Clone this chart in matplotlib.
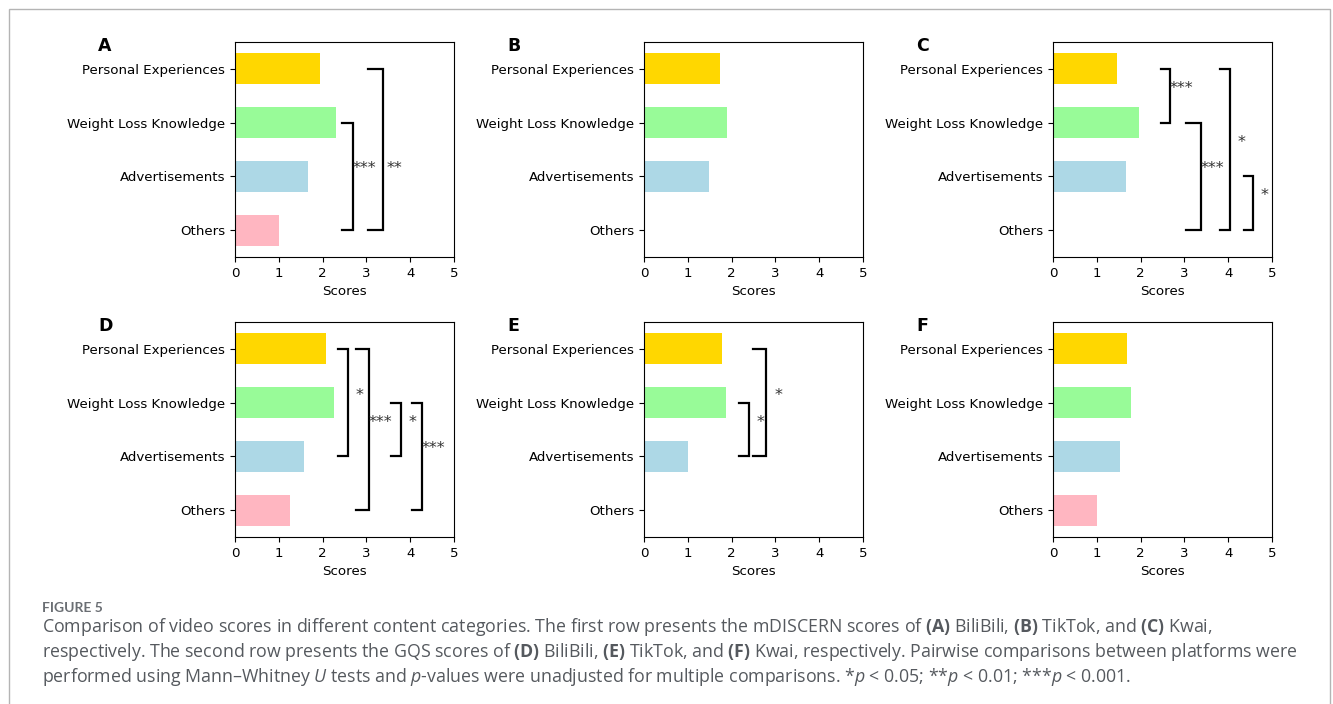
import matplotlib
matplotlib.use("Agg")
import matplotlib.pyplot as plt
from matplotlib.patches import Rectangle

plt.rcParams['font.family'] = 'DejaVu Sans'
plt.rcParams['mathtext.fontset'] = 'custom'
plt.rcParams['mathtext.rm'] = 'Open Sans'
plt.rcParams['mathtext.it'] = 'Open Sans:italic'
plt.rcParams['mathtext.bf'] = 'Open Sans:bold'

categories = ["Personal Experiences", "Weight Loss Knowledge", "Advertisements", "Others"]
bar_colors = ["#FFD700", "#98FB98", "#ADD8E6", "#FFB6C1"]

# mDISCERN scores (top row)
scores_a = [1.94, 2.31, 1.67, 1.01]
scores_b = [1.74, 1.89, 1.48, 0.0]
scores_c = [1.45, 1.96, 1.67, 0.0]
# GQS scores (bottom row)
scores_d = [2.08, 2.26, 1.57, 1.26]
scores_e = [1.77, 1.88, 1.00, 0.0]
scores_f = [1.69, 1.78, 1.53, 1.01]

# significance brackets: (from category, to category, arm start, arm end, stars, label row)
brackets_a = [(1, 3, 2.45, 2.69, "***", 2.0), (0, 3, 3.04, 3.37, "**", 2.0)]
brackets_b = []
brackets_c = [(0, 1, 2.46, 2.66, "***", 0.5), (1, 3, 3.04, 3.38, "***", 2.0),
              (0, 3, 3.82, 4.04, "*", 1.5), (2, 3, 4.35, 4.57, "*", 2.5)]
brackets_d = [(0, 2, 2.36, 2.58, "*", 1.0), (0, 3, 2.76, 3.06, "***", 1.5),
              (1, 2, 3.56, 3.79, "*", 1.5), (1, 3, 4.04, 4.27, "***", 2.0)]
brackets_e = [(1, 2, 2.16, 2.39, "*", 1.5), (0, 2, 2.49, 2.79, "*", 1.0)]
brackets_f = []

panels = [("A", scores_a, brackets_a), ("B", scores_b, brackets_b), ("C", scores_c, brackets_c),
          ("D", scores_d, brackets_d), ("E", scores_e, brackets_e), ("F", scores_f, brackets_f)]

W, H = 1333, 704
fig = plt.figure(figsize=(W / 100, H / 100), dpi=100)

# light frame around the whole figure
fig.patches.append(Rectangle((9 / W, -0.02), (1330 - 9) / W, 1 - 9 / H + 0.02,
                             transform=fig.transFigure, fill=False,
                             edgecolor="#b4b4b4", linewidth=1))

col_left = [235, 644, 1053]
row_top = [42, 322]
ax_w, ax_h = 219, 215

for k, (letter, scores, brackets) in enumerate(panels):
    r, c = divmod(k, 3)
    left = col_left[c]
    top = row_top[r]
    ax = fig.add_axes([left / W, 1 - (top + ax_h) / H, ax_w / W, ax_h / H])
    ypos = list(range(len(categories)))
    ax.barh(ypos, scores, height=0.58, color=bar_colors)
    ax.set_yticks(ypos)
    ax.set_yticklabels(categories, fontsize=9.6)
    ax.set_ylim(3.5, -0.5)
    ax.set_xlim(0, 5)
    ax.set_xticks(range(6))
    ax.tick_params(axis="x", labelsize=9.6)
    ax.set_xlabel("Scores", fontsize=9.6)

    for (i, j, x0, x1, stars, ty) in brackets:
        ax.plot([x0, x1, x1, x0], [i, i, j, j], color="black", lw=1.6,
                solid_joinstyle="miter")
        ax.text(x1 + 0.27, ty, stars, ha="center", va="bottom", fontsize=11.5,
                color="#333333")

    fig.text((left - 137) / W, 1 - (top + 4) / H, letter, fontsize=12.5,
             fontweight="bold", ha="left", va="center")

# caption
cap_color = "#55595e"
fig.text(42 / W, 1 - 608 / H, "FIGURE 5", fontsize=10, fontweight="bold",
         family="Lato", color="#6a6e73", va="center")
caption_lines = [
    r"Comparison of video scores in different content categories. The first row presents the mDISCERN scores of $\mathbf{(A)}$ BiliBili, $\mathbf{(B)}$ TikTok, and $\mathbf{(C)}$ Kwai,",
    r"respectively. The second row presents the GQS scores of $\mathbf{(D)}$ BiliBili, $\mathbf{(E)}$ TikTok, and $\mathbf{(F)}$ Kwai, respectively. Pairwise comparisons between platforms were",
    r"performed using Mann–Whitney $\mathit{U}$ tests and $\mathit{p}$-values were unadjusted for multiple comparisons. *$\mathit{p}$ < 0.05; **$\mathit{p}$ < 0.01; ***$\mathit{p}$ < 0.001.",
]
for n, line in enumerate(caption_lines):
    fig.text(42 / W, 1 - (632 + 25 * n) / H, line, fontsize=12.75, family="Open Sans",
             color=cap_color, va="baseline")

fig.savefig("out.png", dpi=100)
